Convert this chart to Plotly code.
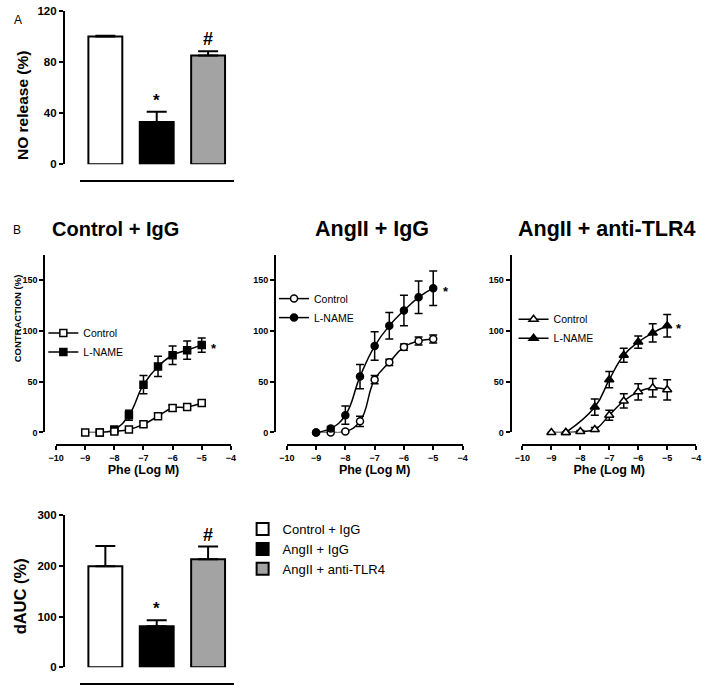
import plotly.graph_objects as go

# ---------------- data ----------------
groups = ["Control + IgG", "AngII + IgG", "AngII + anti-TLR4"]
no_release = [100, 33, 85]
no_release_err = [0.5, 8, 3.5]
no_marks = ["", "*", "#"]

dauc = [199, 81, 213]
dauc_err = [40, 12, 25]
dauc_marks = ["", "*", "#"]

log_phe = [-9, -8.5, -8, -7.5, -7, -6.5, -6, -5.5, -5]

# Control + IgG
c1_ctrl = [0, 0, 1, 3, 8, 16, 24, 25, 29]
c1_ctrl_err = [0, 0, 0.5, 1, 2, 2, 3, 2, 2]
c1_lname_x = [-8.5, -8, -7.5, -7, -6.5, -6, -5.5, -5]
c1_lname = [0, 3, 17, 47, 65, 76, 81, 86]
c1_lname_err = [0, 1, 5, 9, 10, 9, 9, 7]

# AngII + IgG
c2_ctrl = [0, 0, 1, 11, 52, 69, 84, 90, 92]
c2_ctrl_err = [0, 0, 1, 5, 4, 3, 3, 4, 4]
c2_lname = [0, 4, 17, 55, 85, 105, 120, 133, 142]
c2_lname_err = [0, 2, 9, 12, 14, 13, 15, 16, 17]

# AngII + anti-TLR4
c3_ctrl = [0, 0, 1, 3, 17, 31, 40, 44, 42]
c3_ctrl_err = [0, 0, 1, 2, 5, 7, 8, 9, 10]
c3_lname_x = [-8.5, -7.5, -7, -6.5, -6, -5.5, -5]
c3_lname = [0, 25, 52, 76, 89, 98, 105]
c3_lname_err = [0, 8, 8, 7, 6, 9, 11]

x_ticks = [-10, -9, -8, -7, -6, -5, -4]

W, H = 709, 693
FONT = "Liberation Sans, Arial, sans-serif"
GRAY = "#a3a3a3"

def px(v):
    return v / W

def py(v):
    return 1 - v / H

fig = go.Figure()

# ---------------- Panel A bars ----------------
bar_colors = ["white", "black", GRAY]
fig.add_trace(go.Bar(
    x=[0, 1, 2], y=no_release, width=0.66,
    marker=dict(color=bar_colors, line=dict(color="black", width=2)),
    error_y=dict(type="data", array=no_release_err, arrayminus=[0, 0, 0],
                 symmetric=False, color="black", thickness=2, width=10),
    xaxis="x", yaxis="y", showlegend=False, cliponaxis=False))
for i, m in enumerate(no_marks):
    if m:
        fig.add_annotation(x=i, y=no_release[i] + no_release_err[i], xref="x", yref="y",
                           text=m, showarrow=False, yanchor="bottom", yshift=0,
                           font=dict(family=FONT, size=18 if m == "#" else 17, color="black",
                                     weight="bold"))

# ---------------- bottom bars (dAUC) ----------------
for i, g in enumerate(groups):
    fig.add_trace(go.Bar(
        x=[i], y=[dauc[i]], width=0.66, name=g,
        marker=dict(color=bar_colors[i], line=dict(color="black", width=2)),
        error_y=dict(type="data", array=[dauc_err[i]], arrayminus=[0],
                     symmetric=False, color="black", thickness=2, width=10),
        xaxis="x5", yaxis="y5", legend="legend4", cliponaxis=False))
for i, m in enumerate(dauc_marks):
    if m:
        fig.add_annotation(x=i, y=dauc[i] + dauc_err[i], xref="x5", yref="y5",
                           text=m, showarrow=False, yanchor="bottom",
                           font=dict(family=FONT, size=18 if m == "#" else 17, color="black",
                                     weight="bold"))

# ---------------- curves ----------------
def curve(x, y, err, name, symbol, fill, xa, ya, leg, rank, size):
    fig.add_trace(go.Scatter(
        x=x, y=y, name=name, mode="lines+markers",
        line=dict(color="black", width=1.5, shape="spline", smoothing=1.3),
        marker=dict(symbol=symbol, size=size, color=fill, line=dict(color="black", width=1.5)),
        error_y=dict(type="data", array=err, color="black", thickness=1.5, width=4),
        xaxis=xa, yaxis=ya, legend=leg, legendrank=rank, cliponaxis=False))

curve(c1_lname_x, c1_lname, c1_lname_err, "L-NAME", "square", "black", "x2", "y2", "legend", 2, 7)
curve(log_phe, c1_ctrl, c1_ctrl_err, "Control", "square", "white", "x2", "y2", "legend", 1, 7)

curve(log_phe, c2_ctrl, c2_ctrl_err, "Control", "circle", "white", "x3", "y3", "legend2", 1, 7)
curve(log_phe, c2_lname, c2_lname_err, "L-NAME", "circle", "black", "x3", "y3", "legend2", 2, 7)

curve(c3_lname_x, c3_lname, c3_lname_err, "L-NAME", "triangle-up", "black", "x4", "y4", "legend3", 2, 8)
curve(log_phe, c3_ctrl, c3_ctrl_err, "Control", "triangle-up", "white", "x4", "y4", "legend3", 1, 8)

for xs, ys, xa, ya in [(c1_lname_x, c1_lname, "x2", "y2"),
                       (log_phe, c2_lname, "x3", "y3"),
                       (c3_lname_x, c3_lname, "x4", "y4")]:
    fig.add_annotation(x=xs[-1] + 0.42, y=ys[-1], xref=xa, yref=ya, text="*",
                       showarrow=False, yanchor="middle", yshift=-3,
                       font=dict(family=FONT, size=13, color="black", weight="bold"))

# ---------------- axes ----------------
tick_b = dict(family=FONT, size=11.5, color="black", weight="bold")
tick_s = dict(family=FONT, size=9, color="black", weight="bold")

def yax(dom_top, dom_bot, pos, rng, dtick, tf):
    return dict(domain=[py(dom_bot), py(dom_top)], range=rng, anchor="free", position=px(pos),
                showline=True, linecolor="black", linewidth=2, ticks="outside", ticklen=4,
                tickwidth=2, tickcolor="black", dtick=dtick, tick0=0, tickfont=tf,
                showgrid=False, zeroline=False, fixedrange=True)

def xax_bar(pos):
    return dict(domain=[px(73), px(230)], range=[-0.5, 2.5], anchor="free", position=py(pos),
                showline=True, linecolor="black", linewidth=1.5, ticks="", showticklabels=False,
                showgrid=False, zeroline=False, fixedrange=True)

def xax_curve(left, right, pos):
    return dict(domain=[px(left), px(right)], range=[-10, -4], anchor="free", position=py(pos),
                showline=True, linecolor="black", linewidth=2, ticks="outside", ticklen=4,
                tickwidth=2, tickcolor="black", tickvals=x_ticks, tickfont=tick_s,
                showgrid=False, zeroline=False, fixedrange=True,
                title=dict(text="Phe (Log M)", font=dict(family=FONT, size=12.5, color="black", weight="bold"),
                           standoff=2))

layout = dict(
    width=W, height=H, margin=dict(l=0, r=0, t=0, b=0),
    paper_bgcolor="white", plot_bgcolor="white",
    font=dict(family=FONT, color="black"),
    xaxis=xax_bar(178),
    yaxis=yax(5, 161, 57, [0, 120], 40, tick_b),
    xaxis2=xax_curve(49, 227, 447),
    yaxis2=yax(253, 434, 37, [0, 175], 50, tick_s),
    xaxis3=xax_curve(284, 463, 447),
    yaxis3=yax(253, 434, 272, [0, 175], 50, tick_s),
    xaxis4=xax_curve(524, 701, 447),
    yaxis4=yax(253, 434, 512, [0, 175], 50, tick_s),
    xaxis5=xax_bar(690),
    yaxis5=yax(518, 673, 57, [0, 300], 100, tick_b),
)

def legend(x, y, size=11, gap=0):
    return dict(x=px(x), y=py(y), xanchor="left", yanchor="top", bgcolor="rgba(0,0,0,0)",
                font=dict(family=FONT, size=size, color="black"), itemwidth=30,
                tracegroupgap=gap, traceorder="normal")

layout["legend"] = legend(36, 318, size=10.5)
layout["legend2"] = legend(271, 283, size=10.5)
layout["legend3"] = legend(515, 304, size=10.5)
layout["legend4"] = legend(239, 517, size=13)
layout["showlegend"] = True

fig.update_layout(**layout)

# panel labels, titles and axis titles
texts = [("A", 10, 14, 12, False, 0), ("B", 9, 228, 12, False, 0),
         ("Control + IgG", 110, 227, 20, True, 0),
         ("AngII + IgG", 371, 227, 21.5, True, 0),
         ("AngII + anti-TLR4", 610, 227, 21.5, True, 0),
         ("NO release (%)", 15, 101, 15.5, True, -90),
         ("dAUC (%)", 12, 601, 16.5, True, -90),
         ("CONTRACTION (%)", 10, 318, 9.5, True, -90)]
for txt, x, y, s, b, ang in texts:
    fig.add_annotation(x=px(x), y=py(y), xref="paper", yref="paper", text=txt, showarrow=False,
                       xanchor="center", yanchor="middle", textangle=ang,
                       font=dict(family=FONT, size=s, color="black", weight="bold" if b else "normal"))

fig.write_html("out.html", config={"displayModeBar": False},
               post_script="document.body.style.margin='0px';document.body.style.overflow='hidden';")
